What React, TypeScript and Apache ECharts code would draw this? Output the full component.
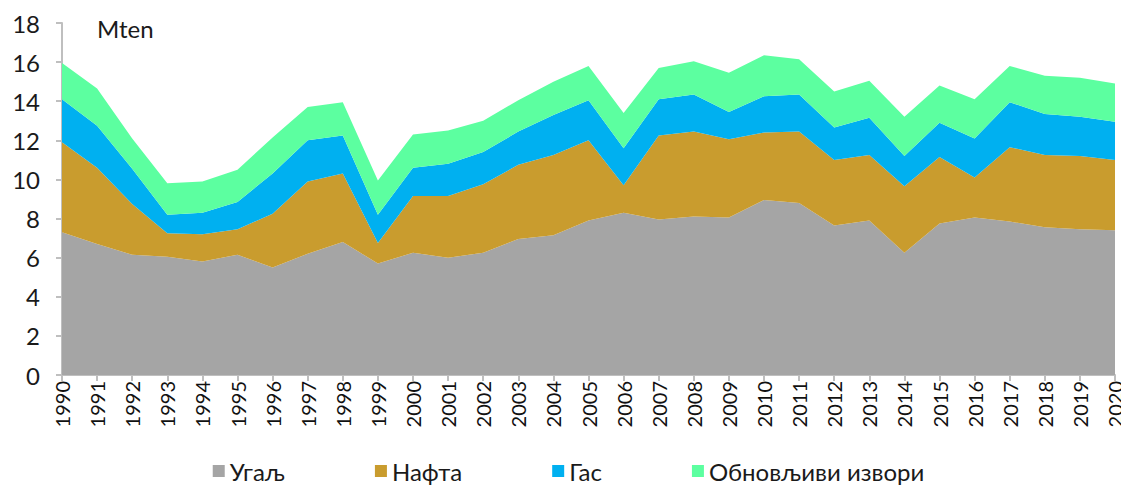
import React, { useEffect, useRef } from "react";
import * as echarts from "echarts";

const years = [
  "1990","1991","1992","1993","1994","1995","1996","1997","1998","1999",
  "2000","2001","2002","2003","2004","2005","2006","2007","2008","2009",
  "2010","2011","2012","2013","2014","2015","2016","2017","2018","2019","2020",
];

const coal = [7.3, 6.7, 6.15, 6.05, 5.8, 6.15, 5.5, 6.2, 6.8, 5.7, 6.25, 6.0, 6.25, 6.95, 7.15, 7.9, 8.3, 7.95, 8.1, 8.05, 8.95, 8.8, 7.65, 7.9, 6.25, 7.75, 8.05, 7.85, 7.55, 7.45, 7.4];
const oil = [4.6, 3.9, 2.6, 1.2, 1.4, 1.3, 2.75, 3.7, 3.5, 1.05, 2.9, 3.15, 3.5, 3.8, 4.1, 4.1, 1.4, 4.3, 4.35, 4.0, 3.45, 3.65, 3.35, 3.35, 3.4, 3.4, 2.05, 3.8, 3.7, 3.75, 3.6];
const gas = [2.2, 2.15, 1.8, 0.95, 1.1, 1.4, 2.05, 2.1, 1.95, 1.45, 1.45, 1.65, 1.65, 1.7, 2.05, 2.05, 1.9, 1.85, 1.9, 1.4, 1.85, 1.9, 1.65, 1.9, 1.55, 1.75, 2.0, 2.3, 2.1, 2.0, 1.95];
const renewables = [1.85, 1.9, 1.55, 1.6, 1.6, 1.65, 1.85, 1.7, 1.7, 1.75, 1.7, 1.7, 1.6, 1.6, 1.7, 1.75, 1.8, 1.6, 1.7, 2.0, 2.1, 1.8, 1.85, 1.9, 2.0, 1.9, 2.0, 1.85, 1.95, 2.0, 1.95];

const seriesNames = ["Угаљ", "Нафта", "Гас", "Обновљиви извори"];
const colors = ["#A5A5A5", "#C99C2E", "#00B0F0", "#5CFFA0"];
const yTicks = [0, 18, 2];
const unitLabel = "Mten";

const FONT = "Lato, 'Liberation Sans', sans-serif";

export default function App() {
  const ref = useRef<HTMLDivElement>(null);
  useEffect(() => {
    if (!ref.current) return;
    const chart = echarts.init(ref.current, undefined, { renderer: "svg" });
    const datasets = [coal, oil, gas, renewables];
    chart.setOption({
      animation: false,
      textStyle: { fontFamily: FONT },
      grid: { left: 54, right: 14, top: 15, bottom: 111, containLabel: false },
      legend: {
        data: seriesNames,
        top: 446,
        left: "center",
        itemWidth: 12,
        itemHeight: 12,
        itemGap: 90,
        icon: "rect",
        textStyle: { fontSize: 24, color: "#1a1a1a", fontFamily: FONT },
      },
      graphic: [
        {
          type: "text",
          left: 89,
          top: 8,
          style: { text: unitLabel, fontSize: 24, fill: "#1a1a1a", fontFamily: FONT },
        },
      ],
      xAxis: {
        type: "category",
        data: years,
        boundaryGap: false,
        axisLine: { lineStyle: { color: "#BFBFBF", width: 2 } },
        axisTick: { show: true, alignWithLabel: true, length: 6, lineStyle: { color: "#BFBFBF", width: 2 } },
        axisLabel: { rotate: 90, fontSize: 20, color: "#111", margin: 6, interval: 0, fontFamily: FONT },
        splitLine: { show: false },
      },
      yAxis: {
        type: "value",
        min: yTicks[0],
        max: yTicks[1],
        interval: yTicks[2],
        axisLine: { show: true, lineStyle: { color: "#BFBFBF", width: 2 } },
        axisTick: { show: true, length: 6, lineStyle: { color: "#BFBFBF", width: 2 } },
        axisLabel: { fontSize: 24, color: "#1a1a1a", margin: 22, fontFamily: FONT },
        splitLine: { show: false },
      },
      series: datasets.map((d, i) => ({
        name: seriesNames[i],
        type: "line",
        stack: "total",
        data: d,
        symbol: "none",
        lineStyle: { width: 0 },
        areaStyle: { color: colors[i], opacity: 1 },
        itemStyle: { color: colors[i] },
        z: 2,
      })),
    });
    return () => chart.dispose();
  }, []);
  return <div ref={ref} style={{ width: 1121, height: 478 }} />;
}
